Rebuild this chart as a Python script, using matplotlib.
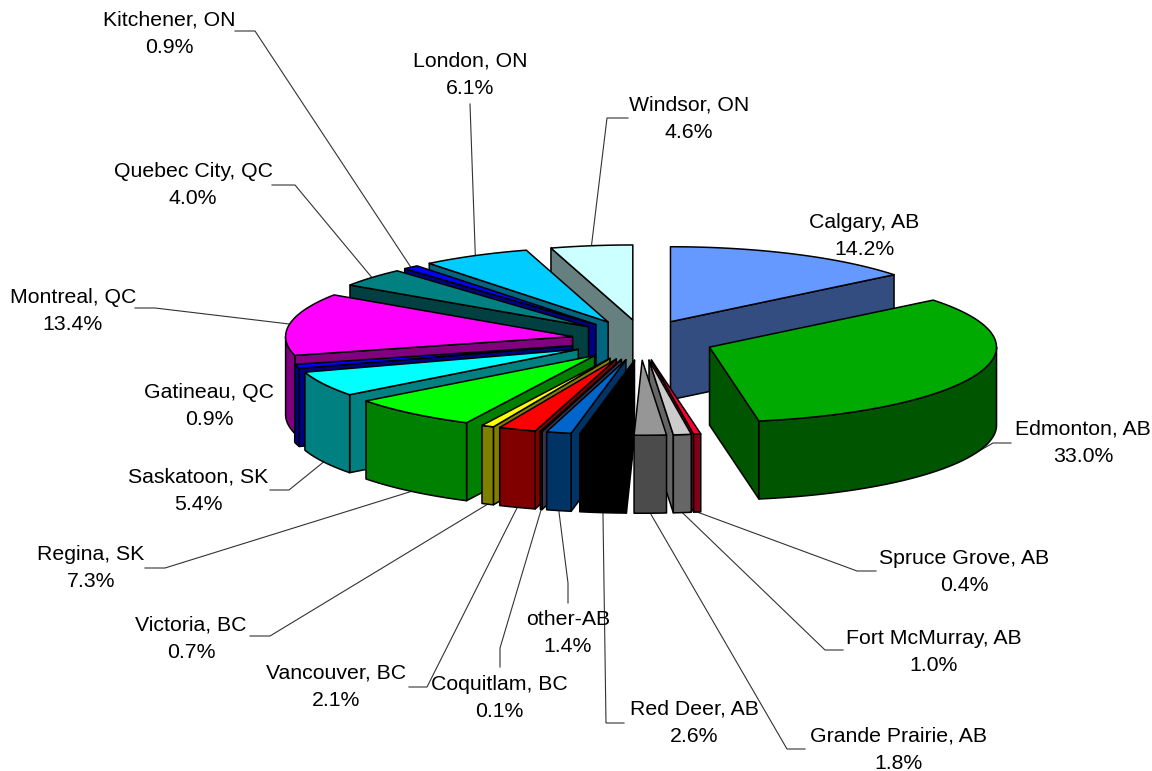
import numpy as np
import matplotlib
matplotlib.use("Agg")
import matplotlib.pyplot as plt
from matplotlib.patches import Polygon

plt.rcParams['font.family'] = ['Liberation Sans', 'DejaVu Sans']

cities = ['Calgary, AB', 'Edmonton, AB', 'Spruce Grove, AB', 'Fort McMurray, AB',
          'Grande Prairie, AB', 'Red Deer, AB', 'other-AB', 'Coquitlam, BC',
          'Vancouver, BC', 'Victoria, BC', 'Regina, SK', 'Saskatoon, SK',
          'Gatineau, QC', 'Montreal, QC', 'Quebec City, QC', 'Kitchener, ON',
          'London, ON', 'Windsor, ON']
shares = [14.2, 33.0, 0.4, 1.0, 1.8, 2.6, 1.4, 0.1, 2.1, 0.7, 7.3, 5.4,
          0.9, 13.4, 4.0, 0.9, 6.1, 4.6]
top_colors = ['#6699FF', '#00AA00', '#FF0033', '#CCCCCC', '#969696', '#000000',
              '#0066CC', '#666699', '#FF0000', '#FFFF00', '#00FF00', '#00FFFF',
              '#0000FF', '#FF00FF', '#008080', '#0000FF', '#00CCFF', '#CCFFFF']

# pie geometry in pixels
cx, cy = 637, 340
rx, ry = 287, 75
depth = 78
explode = 0.27
# the slices on the left sit a bit closer to the middle than the right ones
nudge = [0, 0, 2, 3, 3, 6, 7, 6, 6, 6, 7, 10, 10, 12, 10, 9, 7, 7]

# label centre x, label centre y, then leader elbow points (None = no leader)
label_layout = {
    'Calgary, AB': (864, 236, None),
    'Edmonton, AB': (1083, 443, [(1011, 443), (993, 443)]),
    'Spruce Grove, AB': (964, 572, [(876, 571), (857, 571)]),
    'Fort McMurray, AB': (934, 652, [(843, 650), (825, 650)]),
    'Grande Prairie, AB': (898, 750, [(805, 749), (787, 749)]),
    'Red Deer, AB': (694, 723, [(624, 723), (606, 723)]),
    'other-AB': (568, 633, [(568, 603), (568, 583)]),
    'Coquitlam, BC': (499, 698, [(500, 667), (500, 648)]),
    'Vancouver, BC': (336, 687, [(409, 687), (427, 687)]),
    'Victoria, BC': (191, 639, [(250, 636), (270, 636)]),
    'Regina, SK': (91, 568, [(145, 568), (165, 568)]),
    'Saskatoon, SK': (198, 491, [(270, 490), (289, 490)]),
    'Gatineau, QC': (209, 406, None),
    'Montreal, QC': (73, 311, [(135, 308), (155, 308)]),
    'Quebec City, QC': (193, 185, [(272, 185), (295, 185)]),
    'Kitchener, ON': (169, 34, [(235, 31), (255, 31)]),
    'London, ON': (470, 75, [(470, 104)]),
    'Windsor, ON': (689, 119, [(628, 118), (607, 118)]),
}


def darken(color):
    r, g, b = matplotlib.colors.to_rgb(color)
    return (r / 2, g / 2, b / 2)


def rim(apex, a0, a1, n=60):
    t = np.linspace(a0, a1, n)
    return np.column_stack([apex[0] + rx * np.sin(t), apex[1] - ry * np.cos(t)])


fig = plt.figure(figsize=(11.52, 7.71), dpi=100)
ax = fig.add_axes([0, 0, 1, 1])
ax.set_xlim(0, 1152)
ax.set_ylim(771, 0)
ax.axis('off')

total = sum(shares)
ends = np.cumsum(shares) / total * 2 * np.pi
starts = np.r_[0, ends[:-1]]
mids = (starts + ends) / 2

apexes = []
for i, m in enumerate(mids):
    apexes.append((cx + explode * rx * np.sin(m) + nudge[i],
                   cy - explode * ry * np.cos(m)))

edge = dict(edgecolor='black', linewidth=1.1, joinstyle='round')
down = np.array([0, depth])

# back slices first, the ones facing the viewer last
order = np.argsort(-np.abs(mids - np.pi))
for z, i in enumerate(order):
    a0, a1, apex = starts[i], ends[i], np.array(apexes[i])
    top = top_colors[i]
    side = darken(top)
    z = z + 2

    # cut faces
    if a1 < np.pi:
        p = rim(apex, a1, a1, 1)[0]
        ax.add_patch(Polygon([apex, p, p + down, apex + down], facecolor=side, zorder=z, **edge))
    if a0 > np.pi:
        p = rim(apex, a0, a0, 1)[0]
        ax.add_patch(Polygon([apex, p, p + down, apex + down], facecolor=side, zorder=z, **edge))

    # outer wall, only the part in the front half
    w0, w1 = max(a0, np.pi / 2), min(a1, 3 * np.pi / 2)
    if w1 > w0:
        arc = rim(apex, w0, w1)
        ax.add_patch(Polygon(np.vstack([arc, arc[::-1] + down]), facecolor=side, zorder=z, **edge))

    # top
    ax.add_patch(Polygon(np.vstack([[apex], rim(apex, a0, a1)]), facecolor=top, zorder=z, **edge))

for i, name in enumerate(cities):
    lx, ly, elbow = label_layout[name]
    ax.text(lx, ly, f"{name}\n{shares[i]:.1f}%", ha='center', va='center', fontsize=15.3,
            color='black', linespacing=1.56, zorder=60)
    if elbow:
        p = rim(apexes[i], mids[i], mids[i], 1)[0]
        if np.cos(mids[i]) < 0:
            p = p + down
        pts = np.array(list(elbow) + [p])
        ax.plot(pts[:, 0], pts[:, 1], color='#333333', lw=0.8, zorder=1)

fig.savefig('out.png', dpi=100)
